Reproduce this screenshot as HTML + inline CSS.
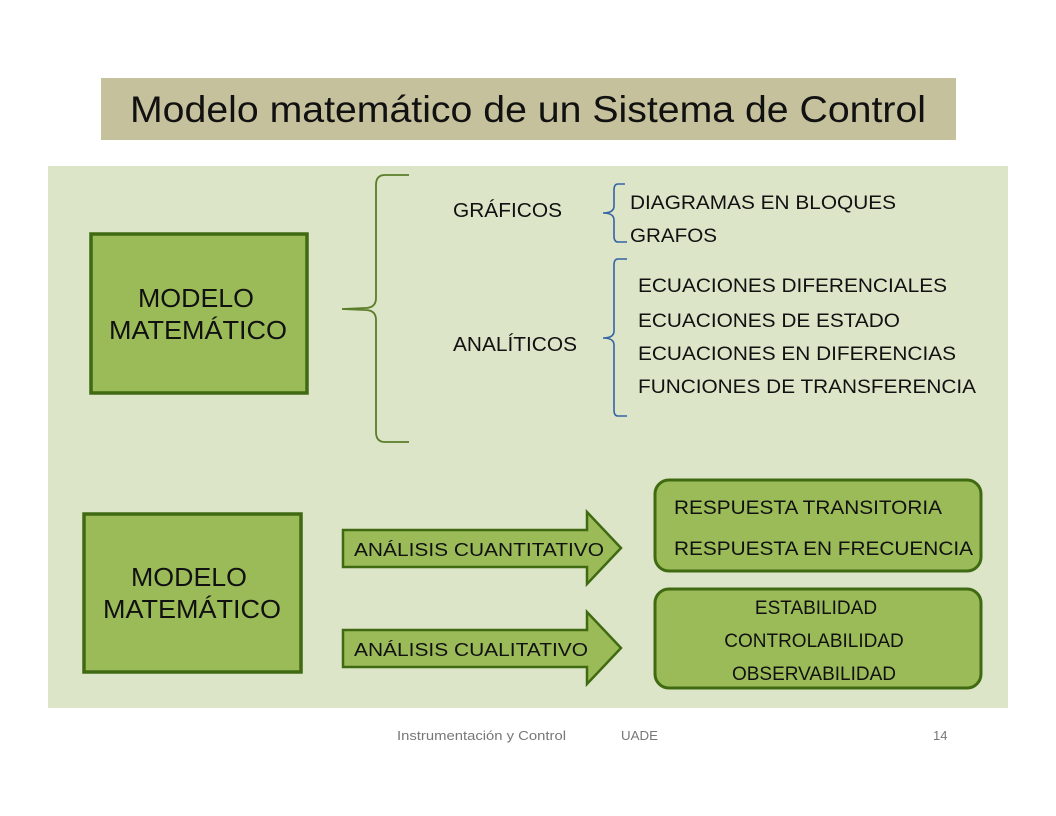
<!DOCTYPE html>
<html><head><meta charset="utf-8"><style>
html,body{margin:0;padding:0;background:#fff;width:1056px;height:816px;overflow:hidden}
svg{display:block}
text{font-family:"Liberation Sans",sans-serif;fill:#111}
</style></head><body>
<svg width="1056" height="816" viewBox="0 0 1056 816" xmlns="http://www.w3.org/2000/svg">
<rect x="101" y="78" width="855" height="62" fill="#c5c19c"/>
<text x="130" y="122" font-size="37" textLength="796" lengthAdjust="spacingAndGlyphs">Modelo matemático de un Sistema de Control</text>
<rect x="48" y="166" width="960" height="542" fill="#dde5c8"/>
<rect x="91" y="234" width="216" height="159" fill="#9bbb59" stroke="#3f6a12" stroke-width="3.5"/>
<text x="196" y="307" font-size="26" text-anchor="middle" textLength="116" lengthAdjust="spacingAndGlyphs">MODELO</text>
<text x="198" y="339" font-size="26" text-anchor="middle" textLength="178" lengthAdjust="spacingAndGlyphs">MATEMÁTICO</text>
<path d="M409 175 L385 175 Q376 175 376 185 L376 298 Q376 308 365 308 L342 309 L365 310 Q376 310 376 320 L376 432 Q376 442 385 442 L409 442" fill="none" stroke="#5a7d2a" stroke-width="1.8"/>
<text x="453" y="217" font-size="20" textLength="109" lengthAdjust="spacingAndGlyphs">GRÁFICOS</text>
<text x="453" y="351" font-size="20" textLength="124" lengthAdjust="spacingAndGlyphs">ANALÍTICOS</text>
<path d="M625 184 L618 184 Q614 184 614 190 L614 206 Q614 213 603 213 Q614 213 614 220 L614 236 Q614 242 618 242 L627 242" fill="none" stroke="#3465a4" stroke-width="1.6"/>
<path d="M627 259 L618 259 Q614 259 614 265 L614 331 Q614 338 603 338 Q614 338 614 345 L614 410 Q614 416 618 416 L627 416" fill="none" stroke="#3465a4" stroke-width="1.6"/>
<text x="630" y="209" font-size="19" textLength="266" lengthAdjust="spacingAndGlyphs">DIAGRAMAS EN BLOQUES</text>
<text x="630" y="242" font-size="19" textLength="87" lengthAdjust="spacingAndGlyphs">GRAFOS</text>
<text x="638" y="292" font-size="19" textLength="309" lengthAdjust="spacingAndGlyphs">ECUACIONES DIFERENCIALES</text>
<text x="638" y="327" font-size="19" textLength="262" lengthAdjust="spacingAndGlyphs">ECUACIONES DE ESTADO</text>
<text x="638" y="360" font-size="19" textLength="318" lengthAdjust="spacingAndGlyphs">ECUACIONES EN DIFERENCIAS</text>
<text x="638" y="393" font-size="19" textLength="338" lengthAdjust="spacingAndGlyphs">FUNCIONES DE TRANSFERENCIA</text>
<rect x="84" y="514" width="217" height="158" fill="#9bbb59" stroke="#3f6a12" stroke-width="3.5"/>
<text x="189" y="586" font-size="26" text-anchor="middle" textLength="116" lengthAdjust="spacingAndGlyphs">MODELO</text>
<text x="192" y="618" font-size="26" text-anchor="middle" textLength="178" lengthAdjust="spacingAndGlyphs">MATEMÁTICO</text>
<path d="M343 530 L587 530 L587 512 L621 548 L587 584 L587 567 L343 567 Z" fill="#9bbb59" stroke="#3f6a12" stroke-width="2.5"/>
<text x="354" y="556" font-size="18" textLength="250" lengthAdjust="spacingAndGlyphs">ANÁLISIS CUANTITATIVO</text>
<path d="M343 630 L587 630 L587 612 L621 648 L587 684 L587 667 L343 667 Z" fill="#9bbb59" stroke="#3f6a12" stroke-width="2.5"/>
<text x="354" y="656" font-size="18" textLength="234" lengthAdjust="spacingAndGlyphs">ANÁLISIS CUALITATIVO</text>
<rect x="655" y="480" width="326" height="91" rx="14" fill="#9bbb59" stroke="#3f6a12" stroke-width="3"/>
<text x="674" y="514" font-size="19" textLength="268" lengthAdjust="spacingAndGlyphs">RESPUESTA TRANSITORIA</text>
<text x="674" y="555" font-size="19" textLength="299" lengthAdjust="spacingAndGlyphs">RESPUESTA EN FRECUENCIA</text>
<rect x="655" y="589" width="326" height="99" rx="14" fill="#9bbb59" stroke="#3f6a12" stroke-width="3"/>
<text x="816" y="614" font-size="19" text-anchor="middle">ESTABILIDAD</text>
<text x="814" y="647" font-size="19" text-anchor="middle">CONTROLABILIDAD</text>
<text x="814" y="680" font-size="19" text-anchor="middle">OBSERVABILIDAD</text>
<text x="397" y="740" font-size="13" textLength="169" lengthAdjust="spacingAndGlyphs" style="fill:#777">Instrumentación y Control</text>
<text x="621" y="740" font-size="13" textLength="37" lengthAdjust="spacingAndGlyphs" style="fill:#777">UADE</text>
<text x="933" y="740" font-size="13" style="fill:#777">14</text>
</svg>
</body></html>
